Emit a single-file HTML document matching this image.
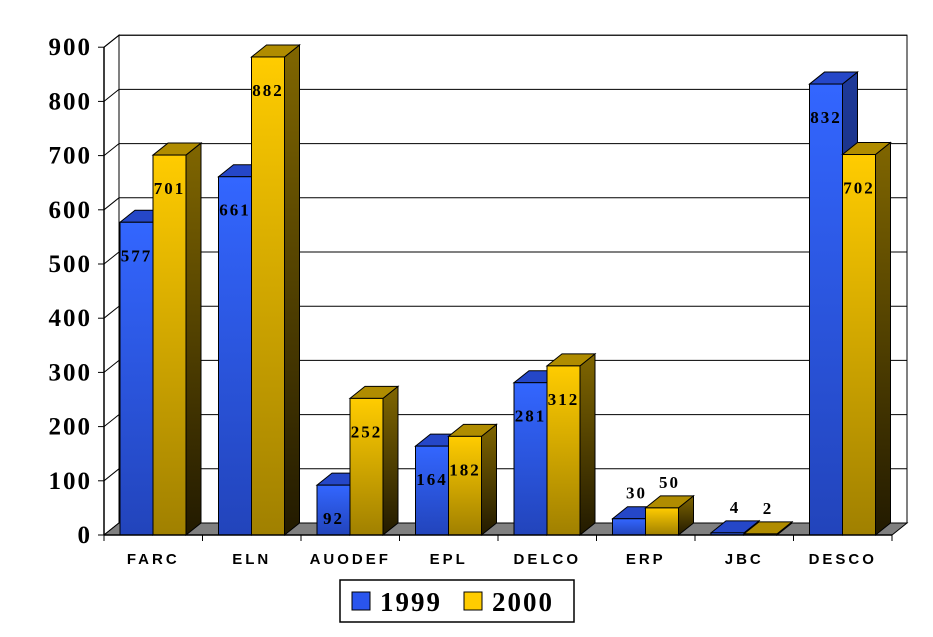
<!DOCTYPE html>
<html><head><meta charset="utf-8"><style>
body{margin:0;background:#fff;}
svg{display:block;}
</style></head><body>
<svg id="chart" width="933" height="637" viewBox="0 0 933 637" xmlns="http://www.w3.org/2000/svg">
<defs>
<linearGradient id="bf" x1="0" y1="0" x2="0" y2="1"><stop offset="0" stop-color="#3366ff"/><stop offset="1" stop-color="#2244bb"/></linearGradient>
<linearGradient id="bs" x1="0" y1="0" x2="0" y2="1"><stop offset="0" stop-color="#1e3a9a"/><stop offset="1" stop-color="#0f1a4a"/></linearGradient>
<linearGradient id="gf" x1="0" y1="0" x2="0" y2="1"><stop offset="0" stop-color="#ffcc00"/><stop offset="1" stop-color="#a08000"/></linearGradient>
<linearGradient id="gs" x1="0" y1="0" x2="0" y2="1"><stop offset="0" stop-color="#806600"/><stop offset="1" stop-color="#221a00"/></linearGradient>
</defs>
<g id="grid"></g>
<g id="bars"></g>
<g id="axes"></g>
<g>
<rect x="340" y="580" width="234" height="42" fill="#fff" stroke="#000" stroke-width="1.5"/>
<rect x="352" y="592" width="18" height="18" fill="#2a55ee" stroke="#000"/>
<text x="380" y="611" font-family="Liberation Serif, serif" font-size="27" font-weight="bold" letter-spacing="2">1999</text>
<rect x="464" y="592" width="18" height="18" fill="#ffcc00" stroke="#000"/>
<text x="492" y="611" font-family="Liberation Serif, serif" font-size="27" font-weight="bold" letter-spacing="2">2000</text>
</g>
</svg>
<script>
const categories=["FARC","ELN","AUODEF","EPL","DELCO","ERP","JBC","DESCO"];
const values1999=[577,661,92,164,281,30,4,832];
const values2000=[701,882,252,182,312,50,2,702];
const yTicks=[0,100,200,300,400,500,600,700,800,900];
const NS="http://www.w3.org/2000/svg";
const X0=104,CW=98.5,Y0=535,K=0.542,DX=15,DY=-12,BW=33;
function yS(v){return Y0-v*K;}
function xS(i){return X0+i*CW;}
function mk(tag,attrs,parent){const e=document.createElementNS(NS,tag);for(const k in attrs)e.setAttribute(k,attrs[k]);parent.appendChild(e);return e;}
const grid=document.getElementById('grid'),bars=document.getElementById('bars'),axes=document.getElementById('axes');
const XR=X0+categories.length*CW;
// back wall and side
let w=mk('polygon',{points:`${X0},${Y0} ${X0+DX},${Y0+DY} ${X0+DX},${yS(900)+DY} ${X0},${yS(900)}`,fill:'#fff',stroke:'#000'},grid);

w=mk('rect',{x:X0+DX,y:yS(900)+DY,width:XR-X0,height:900*K,fill:'#fff',stroke:'#000'},grid);

yTicks.forEach(t=>{
  const g=mk('polyline',{points:`${X0},${yS(t)} ${X0+DX},${yS(t)+DY} ${XR+DX},${yS(t)+DY}`,fill:'none',stroke:'#000','stroke-width':1},grid);
  
});
w=mk('polygon',{points:`${X0},${Y0} ${X0+DX},${Y0+DY} ${XR+DX},${Y0+DY} ${XR},${Y0}`,fill:'#808080',stroke:'#000'},grid);

function bar(x,v,front,side,top,name,label){
  const yt=yS(v);const g=mk('g',{},bars);
  
  mk('polygon',{points:`${x+BW},${Y0} ${x+BW+DX},${Y0+DY} ${x+BW+DX},${yt+DY} ${x+BW},${yt}`,fill:side,stroke:'#000'},g);
  mk('polygon',{points:`${x},${yt} ${x+DX},${yt+DY} ${x+BW+DX},${yt+DY} ${x+BW},${yt}`,fill:top,stroke:'#000'},g);
  mk('rect',{x:x,y:yt,width:BW,height:Y0-yt,fill:front,stroke:'#000'},g);
  const inside=v>60;
  const t=mk('text',{x:x+BW/2+(inside?0:DX/2),y:inside?yt+39:yt+DY-8,'text-anchor':'middle','font-family':'Liberation Serif, serif','font-size':17,'font-weight':'bold','letter-spacing':2},bars);
  t.textContent=label;
  
}
categories.forEach((c,i)=>{
  const x=xS(i)+16;
  bar(x,values1999[i],'url(#bf)','url(#bs)','#2547c8','bar-1999-'+c.toLowerCase(),String(values1999[i]));
  bar(x+BW,values2000[i],'url(#gf)','url(#gs)','#b08c00','bar-2000-'+c.toLowerCase(),String(values2000[i]));
  const l=mk('text',{x:xS(i)+CW/2,y:564,'text-anchor':'middle','font-family':'Liberation Sans, sans-serif','font-size':15,'font-weight':'bold','letter-spacing':3},axes);
  l.textContent=c;
  
});
let a=mk('line',{x1:X0,y1:yS(0),x2:X0,y2:yS(900),stroke:'#000','stroke-width':1.5},axes);

a=mk('line',{x1:X0,y1:Y0,x2:XR,y2:Y0,stroke:'#000','stroke-width':1.5},axes);

for(let i=0;i<=categories.length;i++){
  const tk=mk('line',{x1:xS(i),y1:Y0,x2:xS(i),y2:Y0+6,stroke:'#000'},axes);
  
}
yTicks.forEach(t=>{
  const tk=mk('line',{x1:X0-6,y1:yS(t),x2:X0,y2:yS(t),stroke:'#000'},axes);
  
  const l=mk('text',{x:92,y:yS(t)+8,'text-anchor':'end','font-family':'Liberation Serif, serif','font-size':25,'font-weight':'bold','letter-spacing':2},axes);
  l.textContent=t;
  
});
</script>
</body></html>
